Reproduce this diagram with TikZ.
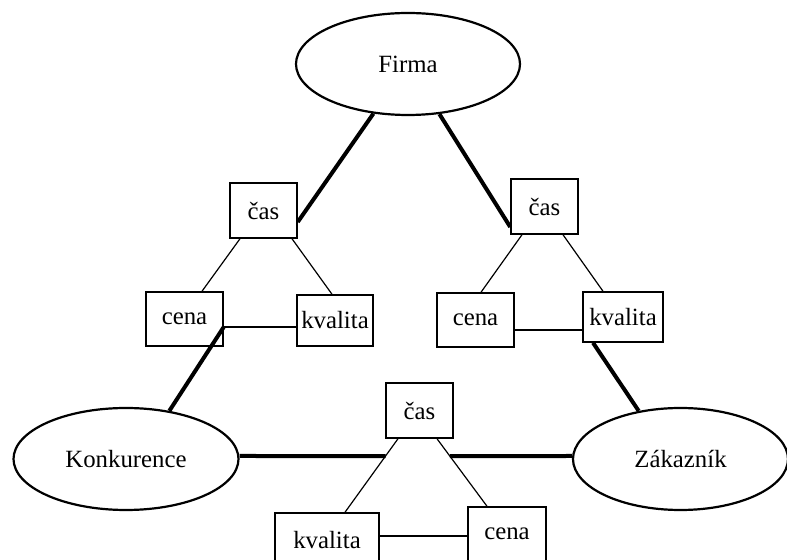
\documentclass[tikz,border=0pt]{standalone}
\usepackage{fontspec}
\setmainfont{Liberation Serif}
\usetikzlibrary{shapes.geometric}
\begin{document}
\begin{tikzpicture}[x=0.5pt,y=-0.5pt,
  labelfont/.style={font=\fontsize{12.4}{14}\selectfont},
  party/.style={draw,line width=1.1pt,ellipse,inner sep=0pt,labelfont,minimum height=51pt},
  factor/.style={draw,line width=0.75pt,rectangle,inner sep=0pt,fill=white,labelfont},
  strong/.style={line width=2pt},
  weak/.style={line width=0.6pt}]
\useasboundingbox (0,0) rectangle (787,560);
\clip (0,0) rectangle (787,560);

% the three parties
\node[party,minimum width=112pt]   (firma) at (408,64)    {Firma};
\node[party,minimum width=112.5pt] (konk)  at (126,459)   {Konkurence};
\node[party,minimum width=107.5pt] (zak)   at (680.5,459) {Zákazník};

% left triangle
\node[factor,minimum width=33.5pt,minimum height=27.5pt] (lcas)  at (263.5,210.5) {čas};
\node[factor,minimum width=38.5pt,minimum height=27pt]   (lcena) at (184.5,319)   {cena};
\node[factor,minimum width=38pt,minimum height=25.5pt]   (lkval) at (335,320.5)   {kvalita};

% right triangle
\node[factor,minimum width=33.5pt,minimum height=27.5pt] (rcas)  at (544.5,206.5) {čas};
\node[factor,minimum width=38.5pt,minimum height=27pt]   (rcena) at (475.5,320)   {cena};
\node[factor,minimum width=40pt,minimum height=25pt]     (rkval) at (623,317)     {kvalita};

% bottom triangle
\node[factor,minimum width=33.5pt,minimum height=27.5pt] (bcas)  at (419.5,410.5) {čas};
\node[factor,minimum width=52pt,minimum height=27pt]     (bkval) at (327,540)     {kvalita};
\node[factor,minimum width=39pt,minimum height=27pt]     (bcena) at (507,534)     {cena};

% thin links inside the triangles
\draw[weak] ([xshift=-11.75pt]lcas.south) -- ([xshift=8.75pt]lcena.north);
\draw[weak] ([xshift=14.25pt]lcas.south) -- ([xshift=-1.5pt]lkval.north);
\coordinate (lh) at ([yshift=-4pt]lcena.east);
\draw[weak] (lh) -- (lh -| lkval.west);

\draw[weak] ([xshift=-11.25pt]rcas.south) -- ([xshift=2.75pt]rcena.north);
\draw[weak] ([xshift=9.25pt]rcas.south) -- ([xshift=-10pt]rkval.north);
\coordinate (rh) at ([yshift=-5pt]rcena.east);
\draw[weak] (rh) -- (rh -| rkval.west);

\coordinate (bca) at ([xshift=-10.75pt]bcas.south);
\coordinate (bcb) at ([xshift=8.75pt]bcas.south);
\coordinate (bka) at ([xshift=9pt]bkval.north);
\coordinate (bcn) at ([xshift=-10pt]bcena.north);
\draw[weak] (bca) -- (bka);
\draw[weak] (bcb) -- (bcn);
\coordinate (bh) at ([yshift=2pt]bkval.east);
\draw[weak] (bh) -- (bh -| bcena.west);

% thick links between the parties
\draw[strong] (firma) -- ([yshift=-5.75pt]lcas.east);
\draw[strong] (firma) -- ([yshift=-10.25pt]rcas.west);
\draw[strong] (lh) -- (konk.48);
\draw[strong] ([xshift=-15pt]rkval.south) -- (zak.131);
\coordinate (kl) at ([yshift=1.5pt]konk.east);
\coordinate (zr) at ([yshift=1.5pt]zak.west);
\draw[strong] (kl) -- (intersection of kl--zr and bca--bka);
\draw[strong] (zr) -- (intersection of kl--zr and bcb--bcn);
\end{tikzpicture}
\end{document}
